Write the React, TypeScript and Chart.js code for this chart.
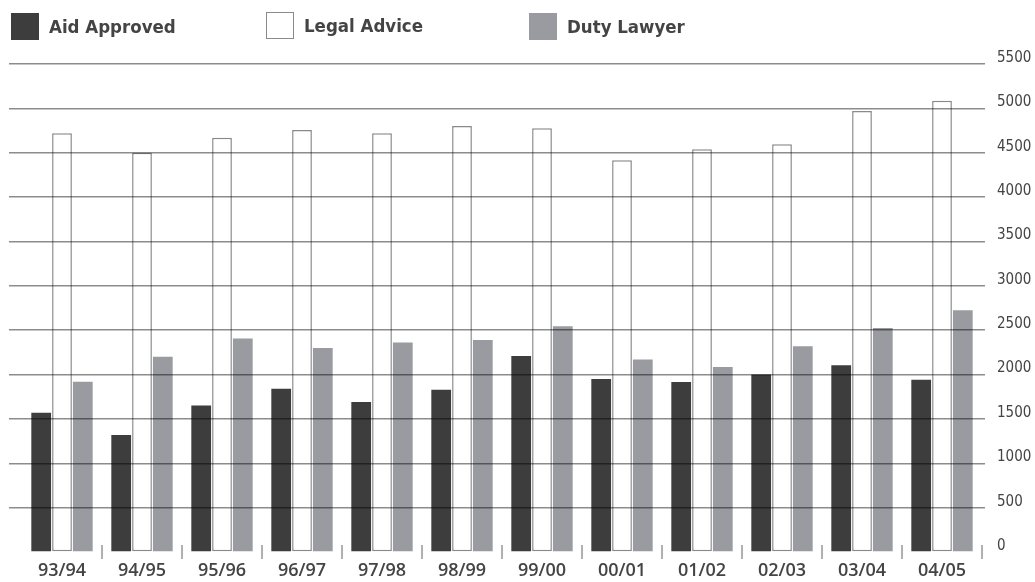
import React, { useEffect, useRef } from "react";
import { Chart, registerables } from "chart.js";

Chart.register(...registerables);

const categories = ["93/94", "94/95", "95/96", "96/97", "97/98", "98/99", "99/00", "00/01", "01/02", "02/03", "03/04", "04/05"];
const aidApproved = [1570, 1320, 1650, 1840, 1690, 1830, 2210, 1950, 1915, 2000, 2105, 1940];
const legalAdvice = [4720, 4500, 4670, 4755, 4720, 4800, 4775, 4415, 4540, 4595, 4970, 5085];
const dutyLawyer = [1920, 2200, 2405, 2300, 2360, 2390, 2545, 2170, 2085, 2320, 2525, 2725];
const seriesNames = ["Aid Approved", "Legal Advice", "Duty Lawyer"];
const yMax = 5500;
const yStep = 500;

const DARK = "#3d3d3d";
const GRAY = "#9a9ba0";
const OUTLINE = "#8a8a8a";
const GRID = "rgba(0,0,0,0.45)";
const TEXT = "#444444";
const NARROW = "'DejaVu Sans Condensed', sans-serif";

const alignPixel = (p: number, w: number) => Math.round(p - w / 2) + w / 2;

const extrasPlugin = {
  id: "extras",
  afterDraw(chart: any) {
    const { ctx, chartArea, scales } = chart;
    const x = scales.x;
    const y = scales.y;
    ctx.save();
    // extend horizontal grid lines to the left
    ctx.strokeStyle = GRID;
    ctx.lineWidth = 1.5;
    y.ticks.forEach((t: any) => {
      if (t.value === 0) return;
      const py = alignPixel(y.getPixelForValue(t.value), 1.5);
      ctx.beginPath();
      ctx.moveTo(9, py);
      ctx.lineTo(chartArea.left, py);
      ctx.stroke();
    });
    // category separators below the baseline
    ctx.strokeStyle = "#b0b0b0";
    ctx.lineWidth = 2;
    const n = categories.length;
    const step = x.getPixelForValue(1) - x.getPixelForValue(0);
    const base = y.getPixelForValue(0);
    for (let i = 0; i < n; i++) {
      const px = Math.round(x.getPixelForValue(i) + step / 2);
      ctx.beginPath();
      ctx.moveTo(px, base - 7);
      ctx.lineTo(px, base + 7);
      ctx.stroke();
    }
    ctx.restore();
  },
};

function LegendItem({ left, top, label, fill, border }: any) {
  return (
    <div style={{ position: "absolute", left, top, display: "flex", alignItems: "center" }}>
      <div
        style={{
          width: 28,
          height: 27,
          boxSizing: "border-box",
          background: fill,
          border: border ? `1.5px solid ${border}` : "none",
        }}
      />
      <span
        style={{
          marginLeft: 10,
          fontFamily: NARROW,
          fontWeight: 700,
          fontSize: 18.5,
          color: TEXT,
          lineHeight: "27px",
        }}
      >
        {label}
      </span>
    </div>
  );
}

export default function App() {
  const ref = useRef<HTMLCanvasElement>(null);

  useEffect(() => {
    document.body.style.margin = "0";
    const chart = new Chart(ref.current as HTMLCanvasElement, {
      type: "bar",
      data: {
        labels: categories,
        datasets: [
          {
            label: seriesNames[0],
            data: aidApproved,
            backgroundColor: DARK,
            borderWidth: 0,
          },
          {
            label: seriesNames[1],
            data: legalAdvice,
            backgroundColor: "#ffffff",
            borderColor: OUTLINE,
            borderWidth: 1.5,
            borderSkipped: false,
          },
          {
            label: seriesNames[2],
            data: dutyLawyer,
            backgroundColor: GRAY,
            borderWidth: 0,
          },
        ],
      },
      options: {
        animation: false,
        responsive: true,
        maintainAspectRatio: false,
        categoryPercentage: 0.78,
        barPercentage: 0.95,
        layout: { padding: { left: 22, top: 64, right: 0, bottom: 0 } },
        plugins: { legend: { display: false }, tooltip: { enabled: false } },
        scales: {
          x: {
            grid: { display: false, drawTicks: false },
            border: { display: false },
            ticks: {
              autoSkip: false,
              maxRotation: 0,
              padding: 8,
              color: TEXT,
              font: { family: "'Open Sans', sans-serif", size: 18, weight: 600 },
            },
            afterFit: (s: any) => {
              s.height = 30;
            },
          },
          y: {
            position: "right",
            min: 0,
            max: yMax,
            border: { display: false },
            grid: {
              z: 1,
              lineWidth: 1.5,
              tickLength: 3,
              color: (c: any) => (c.tick && c.tick.value === 0 ? "rgba(0,0,0,0)" : GRID),
            },
            ticks: {
              stepSize: yStep,
              padding: 12,
              labelOffset: -6,
              color: TEXT,
              font: { family: NARROW, size: 15 },
              callback: (v: any) => String(v),
            },
            afterFit: (s: any) => {
              s.width = 53;
            },
          },
        },
      },
      plugins: [extrasPlugin],
    } as any);
    return () => chart.destroy();
  }, []);

  return (
    <div style={{ position: "relative", width: 1035, height: 582, overflow: "hidden", background: "#fff" }}>
      <canvas ref={ref} />
      <LegendItem left={11} top={13} label={seriesNames[0]} fill={DARK} />
      <LegendItem left={266} top={12} label={seriesNames[1]} fill="#ffffff" border={OUTLINE} />
      <LegendItem left={529} top={13} label={seriesNames[2]} fill={GRAY} />
    </div>
  );
}
